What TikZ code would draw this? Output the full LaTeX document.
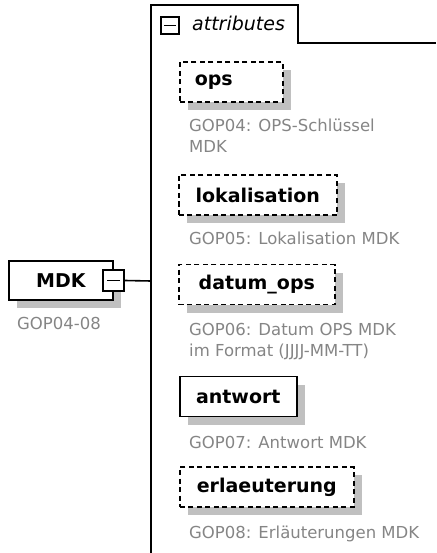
\documentclass[tikz,border=0pt]{standalone}
\usepackage{fontspec}
\setmainfont{DejaVu Sans}
\usetikzlibrary{shadows,calc}
\definecolor{ink}{HTML}{000000}
\definecolor{note}{HTML}{858585}
\definecolor{shade}{HTML}{C0C0C0}
\tikzset{
  elem/.style={draw=ink, fill=white, line width=1.6pt, minimum height=40pt,
    inner xsep=15pt, inner ysep=0pt, font=\fontsize{19}{20}\selectfont\bfseries,
    text=ink, anchor=west,
    drop shadow={shadow xshift=8pt, shadow yshift=-8pt, fill=shade, opacity=1}},
  optelem/.style={elem, dash pattern=on 5pt off 3.5pt},
  desc/.style={font=\fontsize{16.5}{21}\selectfont, text=note, align=left,
    anchor=north west, inner sep=0pt},
  expander/.style={draw=ink, fill=white, line width=1.4pt, minimum size=21pt, inner sep=0pt},
  wire/.style={draw=ink, line width=1.6pt},
  thin/.style={draw=ink, line width=1.4pt},
}
\begin{document}
\begin{tikzpicture}[x=1pt, y=-1pt]
  \useasboundingbox (0,0) rectangle (436,553);
  % root element
  \node[elem, minimum width=104pt, minimum height=39pt] (mdk) at (8,280.5) {MDK};
  \node[desc] (mdkdesc) at (17,317) {GOP04-08};
  \node[expander] (exp) at (mdk.east) {};
  \draw[thin] ($(exp.center)+(-6.5,0)$) -- ($(exp.center)+(6.5,0)$);

  % attributes container
  \draw[wire] (151,553) -- (151,5) -- (298,5) -- (298,43) -- (436,43);
  \draw[thin] (161,17) rectangle (179,34);
  \draw[thin] (164,25.5) -- (176,25.5);
  \node[anchor=base west, inner sep=0pt, font=\fontsize{19}{20}\selectfont\itshape] (attr) at (192,31) {attributes};
  \coordinate (rail) at (151,281);
  \draw[wire] (exp.east) -- (rail);

  % attributes
  \node[optelem, text width=73pt, align=left] (ops) at (179,82) {ops};
  \node[desc] (opsdesc) at (189,119) {GOP04: OPS-Schlüssel\\MDK};

  \node[optelem, minimum width=158pt] (lokal) at (178,195) {lokalisation};
  \node[desc] (lokaldesc) at (189,232) {GOP05: Lokalisation MDK};

  \node[optelem, minimum width=156pt] (datum) at (178,284.5) {datum\_ops};
  \node[desc] (datumdesc) at (189,323) {GOP06: Datum OPS MDK\\im Format (JJJJ-MM-TT)};

  \node[elem, minimum width=117pt] (antw) at (179,396.5) {antwort};
  \node[desc] (antwdesc) at (189,436) {GOP07: Antwort MDK};

  \node[optelem, minimum width=174pt] (erl) at (179,487) {erlaeuterung};
  \node[desc] (erldesc) at (189,526) {GOP08: Erläuterungen MDK};
\end{tikzpicture}
\end{document}
